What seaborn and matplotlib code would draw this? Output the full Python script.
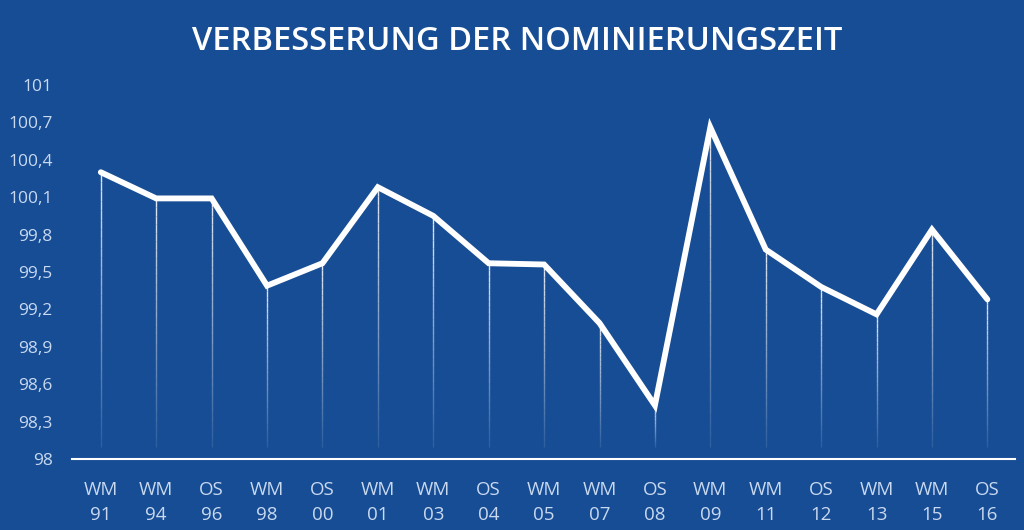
import matplotlib
matplotlib.use("Agg")
import matplotlib.pyplot as plt
import seaborn as sns
import numpy as np
import pandas as pd

# data
events = ["WM", "WM", "OS", "WM", "OS", "WM", "WM", "OS", "WM", "WM",
          "OS", "WM", "WM", "OS", "WM", "WM", "OS"]
years = ["91", "94", "96", "98", "00", "01", "03", "04", "05", "07",
         "08", "09", "11", "12", "13", "15", "16"]
values = [100.30, 100.09, 100.09, 99.39, 99.57, 100.18, 99.95, 99.57, 99.56,
          99.09, 98.43, 100.66, 99.68, 99.38, 99.16, 99.84, 99.28]
yticks = [98, 98.3, 98.6, 98.9, 99.2, 99.5, 99.8, 100.1, 100.4, 100.7, 101]

bg = "#174d95"
tick_col = "#c9d9f0"

sns.set_theme(style="white")
plt.rcParams['font.family'] = ['Open Sans', 'DejaVu Sans']

df = pd.DataFrame({"pos": np.arange(len(values)), "value": values})

fig = plt.figure(figsize=(10.24, 5.30), dpi=100, facecolor=bg)
ax = fig.add_axes([0.0703, 0.134, 0.921, 0.7057])
ax.set_facecolor(bg)

# fading drop lines
for x, v in zip(df["pos"], df["value"]):
    ys = np.linspace(98.1, v, 30)
    for i in range(len(ys) - 1):
        a = 0.1 + 0.8 * i / (len(ys) - 1)
        ax.plot([x, x], [ys[i], ys[i + 1]], color="white", lw=1.0, alpha=a,
                solid_capstyle="butt", zorder=1)

sns.lineplot(data=df, x="pos", y="value", color="white", lw=4.2, ax=ax,
             zorder=3)
ax.lines[-1].set_solid_joinstyle("miter")

ax.set_xlim(-0.52, 16.5)
ax.set_ylim(98, 101)
ax.set_yticks(yticks)
ax.set_yticklabels([f"{t:g}".replace(".", ",") for t in yticks],
                   color=tick_col, fontsize=12.5)
ax.set_xticks(df["pos"])
ax.set_xticklabels([f"{e}\n{y}" for e, y in zip(events, years)],
                   color=tick_col, fontsize=13.5, linespacing=1.45)
ax.tick_params(axis="y", length=0, pad=14)
ax.tick_params(axis="x", length=0, pad=16)
ax.set_xlabel("")
ax.set_ylabel("")
for s in ["top", "right", "left"]:
    ax.spines[s].set_visible(False)
ax.spines["bottom"].set_color("white")
ax.spines["bottom"].set_linewidth(1.5)

fig.text(0.505, 0.922, "VERBESSERUNG DER NOMINIERUNGSZEIT",
         color="white", fontsize=23.5, fontweight="semibold",
         ha="center", va="center")

fig.savefig("out.png", dpi=100, facecolor=bg)
